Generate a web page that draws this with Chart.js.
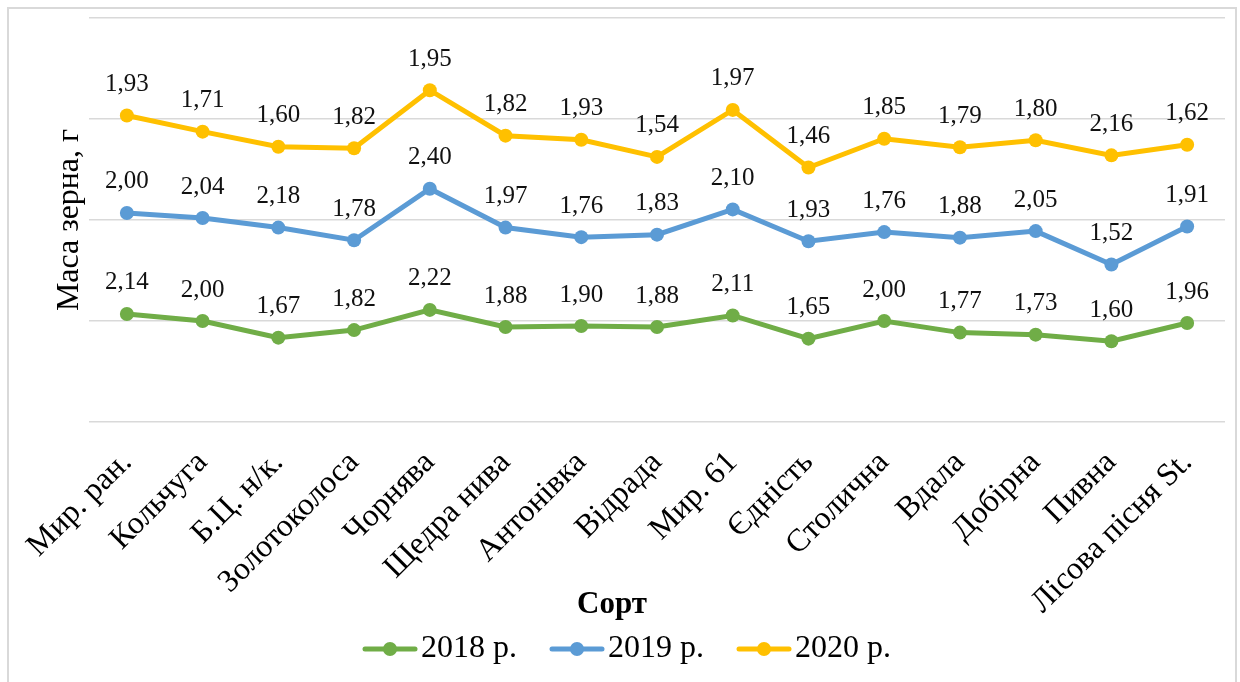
<!DOCTYPE html>
<html>
<head>
<meta charset="utf-8">
<script src="https://cdn.jsdelivr.net/npm/chart.js@4.4.0/dist/chart.umd.min.js"></script>
<style>
  html, body { margin: 0; padding: 0; background: #fff; overflow: hidden; }
  #wrap { position: absolute; left: 7px; top: 7px; width: 1226px; height: 673px; border: 2px solid #d9d9d9; }
</style>
</head>
<body>
<div id="wrap"><canvas id="grafico" width="1226" height="673"></canvas></div>
<script>
const sorty = ['Мир. ран.', 'Кольчуга', 'Б.Ц. н/к.', 'Золотоколоса', 'Чорнява', 'Щедра нива', 'Антонівка',
  'Відрада', 'Мир. 61', 'Єдність', 'Столична', 'Вдала', 'Добірна', 'Пивна', 'Лісова пісня St.'];
const roky = ['2018 р.', '2019 р.', '2020 р.'];
const masa2018 = [2.14, 2.00, 1.67, 1.82, 2.22, 1.88, 1.90, 1.88, 2.11, 1.65, 2.00, 1.77, 1.73, 1.60, 1.96];
const masa2019 = [2.00, 2.04, 2.18, 1.78, 2.40, 1.97, 1.76, 1.83, 2.10, 1.93, 1.76, 1.88, 2.05, 1.52, 1.91];
const masa2020 = [1.93, 1.71, 1.60, 1.82, 1.95, 1.82, 1.93, 1.54, 1.97, 1.46, 1.85, 1.79, 1.80, 2.16, 1.62];
const kolory = ['#70ad47', '#5b9bd5', '#ffc000'];
const nazvaY = 'Маса зерна, г';
const nazvaX = 'Сорт';

const SHRYFT = '"Liberation Serif", "Times New Roman", serif';

// маленька картинка "лінія з крапкою" для легенди
function markerLegendy(kolir) {
  const c = document.createElement('canvas');
  c.width = 56; c.height = 18;
  const g = c.getContext('2d');
  g.strokeStyle = kolir;
  g.lineWidth = 5;
  g.lineCap = 'round';
  g.beginPath(); g.moveTo(3, 9); g.lineTo(53, 9); g.stroke();
  g.fillStyle = kolir;
  g.beginPath(); g.arc(28, 9, 7, 0, Math.PI * 2); g.fill();
  return c;
}

// підписи значень над точками + назви осей
const pidpysy = {
  id: 'pidpysy',
  afterLayout(chart) {
    // легенда в Excel стоїть трохи правіше
    chart.legend.left += 16;
    chart.legend.right += 16;
  },
  afterDatasetsDraw(chart) {
    const ctx = chart.ctx;
    ctx.save();
    ctx.font = '25px ' + SHRYFT;
    ctx.fillStyle = '#111';
    ctx.textAlign = 'center';
    ctx.textBaseline = 'middle';
    chart.data.datasets.forEach((ds, i) => {
      chart.getDatasetMeta(i).data.forEach((pt, j) => {
        ctx.fillText(ds.data[j].toFixed(2).replace('.', ','), pt.x, pt.y - 31);
      });
    });
    ctx.restore();
  },
  afterDraw(chart) {
    const ctx = chart.ctx;
    const a = chart.chartArea;
    ctx.save();
    ctx.fillStyle = '#000';
    ctx.textAlign = 'center';
    ctx.textBaseline = 'middle';
    ctx.font = 'bold 31px ' + SHRYFT;
    ctx.fillText(nazvaX, 603, 596);
    ctx.font = '31px ' + SHRYFT;
    const w = ctx.measureText(nazvaY).width;
    ctx.translate(61, (a.top + a.bottom) / 2);
    ctx.rotate(-Math.PI / 2);
    ctx.scale(182 / w, 1);
    ctx.fillText(nazvaY, 0, 0);
    ctx.restore();
  }
};

const ryady = [masa2018, masa2019, masa2020].map((dani, i) => ({
  label: roky[i],
  data: dani,
  borderColor: kolory[i],
  backgroundColor: kolory[i],
  borderWidth: 5,
  pointRadius: 7,
  pointBorderWidth: 0,
  pointBackgroundColor: kolory[i],
  tension: 0,
  fill: false
}));

new Chart(document.getElementById('grafico'), {
  type: 'line',
  data: { labels: sorty, datasets: ryady },
  options: {
    responsive: false,
    animation: false,
    layout: { padding: { top: 9, right: 10, bottom: 7, left: 0 } },
    plugins: {
      tooltip: { enabled: false },
      legend: {
        position: 'bottom',
        labels: {
          usePointStyle: true,
          pointStyleWidth: 30,
          padding: 45,
          color: '#000',
          font: { family: SHRYFT, size: 32 },
          generateLabels: chart => chart.data.datasets.map((ds, i) => ({
            text: ds.label,
            pointStyle: markerLegendy(kolory[i]),
            fillStyle: kolory[i],
            strokeStyle: kolory[i],
            lineWidth: 0,
            datasetIndex: i
          }))
        }
      }
    },
    scales: {
      x: {
        offset: true,
        grid: { display: false, drawTicks: false },
        border: { display: false },
        ticks: {
          autoSkip: false,
          minRotation: 45,
          maxRotation: 45,
          padding: 22,
          color: '#000',
          font: { family: SHRYFT, size: 32 }
        },
        afterFit: s => {
          s.height = 166;
          s.paddingLeft = 0;
          s.paddingRight = 0;
          // підписи заходять під легенду, тому без обрізання
          s._computeLabelArea = () => null;
        }
      },
      y: {
        stacked: true,
        min: 0,
        max: 8,
        grid: { color: '#d9d9d9', lineWidth: 1.5, drawTicks: false },
        border: { display: false },
        ticks: { display: false, stepSize: 2 },
        afterFit: s => { s.width = 80; }
      }
    }
  },
  plugins: [pidpysy]
});
</script>
</body>
</html>
